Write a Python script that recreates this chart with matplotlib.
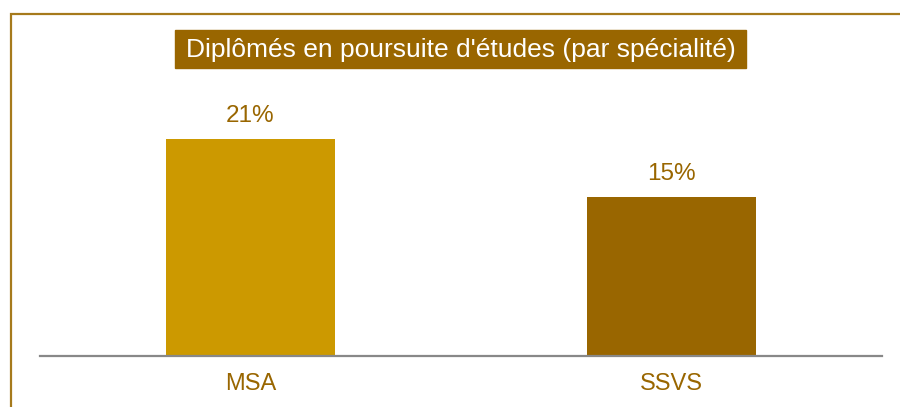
import matplotlib
matplotlib.use('Agg')
from matplotlib import pyplot as plt
from matplotlib.patches import Rectangle

plt.rcParams['font.family'] = ['Liberation Sans', 'DejaVu Sans']

title = "Diplômés en poursuite d'études (par spécialité)"
categories = ['MSA', 'SSVS']
values = [21.0, 15.4]
labels = ['21%', '15%']
colors = ['#CC9900', '#996600']

W, H = 900, 407
fig = plt.figure(figsize=(W / 100, H / 100), dpi=100)

# outer frame (left + top visible, runs off the right/bottom edges)
fig.patches.append(Rectangle((11 / W, -0.1), 1.2, 1.1 - 14 / H,
                             transform=fig.transFigure, fill=False,
                             edgecolor='#A67A1C', linewidth=1.6))

ax = fig.add_axes([40 / W, (H - 356) / H, 842 / W, 276 / H])
x = range(len(categories))
ax.bar(x, values, width=0.4, color=colors)
ax.set_xlim(-0.5, 1.5)
ax.set_ylim(0, 276 / 10.33)

for xi, v, lab in zip(x, values, labels):
    ax.annotate(lab, (xi, v), xytext=(0, 12), textcoords='offset points',
                ha='center', va='baseline', fontsize=17.5, color='#996600')

ax.set_xticks(list(x))
ax.set_xticklabels(categories, fontsize=17, color='#996600')
ax.tick_params(axis='x', length=0, pad=12)
ax.set_yticks([])
for s in ['top', 'left', 'right']:
    ax.spines[s].set_visible(False)
ax.spines['bottom'].set_color('#888888')
ax.spines['bottom'].set_linewidth(1.6)

# title box
fig.patches.append(Rectangle((175 / W, 1 - 68 / H), 571 / W, 38 / H,
                             transform=fig.transFigure, color='#996600'))
fig.text(460.5 / W, 1 - 50 / H, title, ha='center', va='center',
         fontsize=19, color='white')

fig.savefig('out.png', dpi=100)
